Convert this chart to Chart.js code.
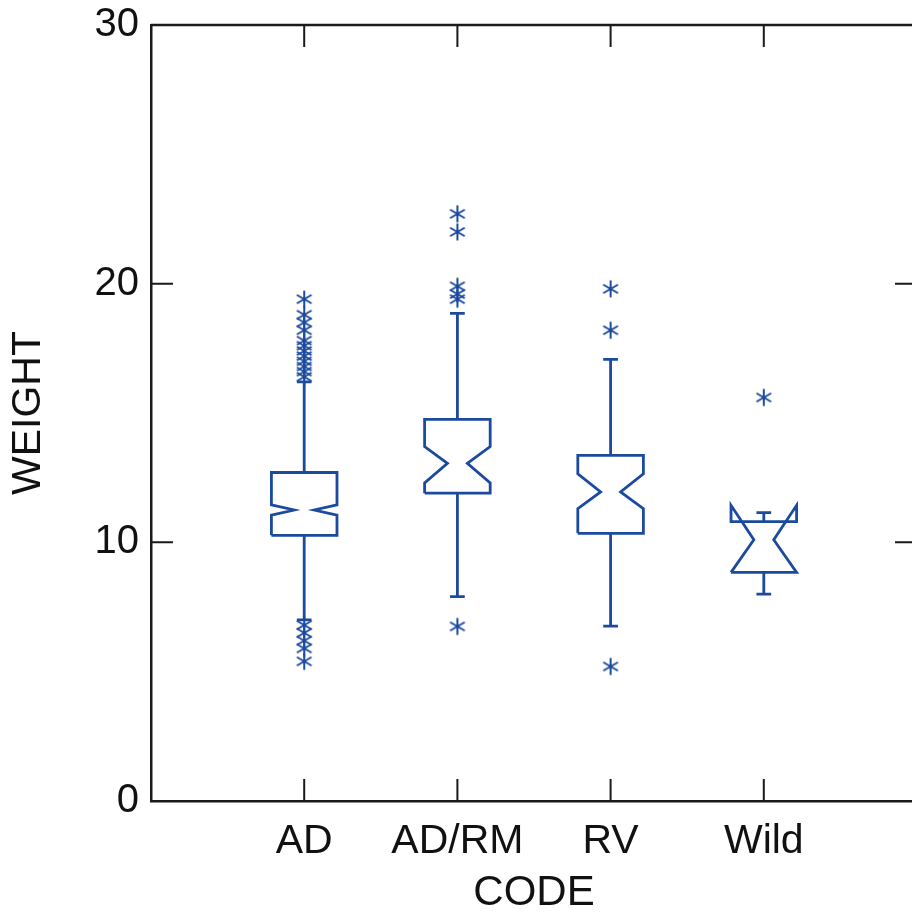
<!DOCTYPE html>
<html>
<head>
<meta charset="utf-8">
<script src="https://cdn.jsdelivr.net/npm/chart.js@4.4.0/dist/chart.umd.min.js"></script>
<style>
  html, body { margin: 0; padding: 0; background: #fff; overflow: hidden; }
  #chart { display: block; }
</style>
</head>
<body>
<canvas id="chart" width="922" height="916"></canvas>
<script>
const categories = ["AD", "AD/RM", "RV", "Wild"];
const q1 = [10.27, 11.9, 10.35, 8.84];
const median = [11.25, 13.05, 11.95, 10.1];
const q3 = [12.7, 14.75, 13.36, 10.8];
const notchLow = [11.05, 12.3, 11.3, 8.84];
const notchHigh = [11.45, 13.7, 12.65, 11.43];
const whiskerLow = [7.0, 7.9, 6.76, 8.0];
const whiskerHigh = [16.2, 18.85, 17.07, 11.15];
const outliersAD = [19.4, 18.8, 18.5, 18.2, 17.8, 17.6, 17.4, 17.2, 17.0, 16.8, 16.6, 16.4, 6.8, 6.5, 6.2, 5.9, 5.4];
const outliersADRM = [22.7, 22.0, 19.9, 19.6, 19.4, 6.75];
const outliersRV = [19.8, 18.2, 5.2];
const outliersWild = [15.6];
const outliers = [outliersAD, outliersADRM, outliersRV, outliersWild];
const yTicks = [0, 10, 20, 30];

const BLUE = "#1b4a9e";
const AXIS = "#1a1a1a";
const BOX_HALF = 0.214, NOTCH_HALF = 0.065, CAP_HALF = 0.048, TICK = 22;

Chart.defaults.font.family = "'Liberation Sans', Arial, sans-serif";
Chart.defaults.color = "#111";

// six-armed asterisk for the outside values
const star = document.createElement("canvas");
star.width = 20; star.height = 20;
(() => {
  const g = star.getContext("2d");
  g.strokeStyle = BLUE; g.lineWidth = 2;
  g.beginPath();
  [90, 30, 150].forEach(a => {
    const r = a * Math.PI / 180, dx = Math.cos(r) * 8.5, dy = Math.sin(r) * 8.5;
    g.moveTo(10 - dx, 10 - dy); g.lineTo(10 + dx, 10 + dy);
  });
  g.stroke();
})();

const lineStyle = { showLine: true, borderColor: BLUE, borderWidth: 2.8, pointRadius: 0, fill: false, tension: 0, borderJoinStyle: "miter" };

const boxes = categories.map((_, i) => {
  const cx = i + 1, L = cx - BOX_HALF, R = cx + BOX_HALF;
  return Object.assign({
    data: [
      { x: L, y: q1[i] }, { x: L, y: notchLow[i] }, { x: cx - NOTCH_HALF, y: median[i] },
      { x: L, y: notchHigh[i] }, { x: L, y: q3[i] }, { x: R, y: q3[i] },
      { x: R, y: notchHigh[i] }, { x: cx + NOTCH_HALF, y: median[i] }, { x: R, y: notchLow[i] },
      { x: R, y: q1[i] }, { x: L, y: q1[i] }
    ]
  }, lineStyle);
});

const whiskers = categories.map((_, i) => {
  const cx = i + 1;
  return Object.assign({
    data: [
      { x: cx, y: q3[i] }, { x: cx, y: whiskerHigh[i] }, { x: cx, y: null },
      { x: cx - CAP_HALF, y: whiskerHigh[i] }, { x: cx + CAP_HALF, y: whiskerHigh[i] }, { x: cx, y: null },
      { x: cx, y: q1[i] }, { x: cx, y: whiskerLow[i] }, { x: cx, y: null },
      { x: cx - CAP_HALF, y: whiskerLow[i] }, { x: cx + CAP_HALF, y: whiskerLow[i] }
    ],
    spanGaps: false
  }, lineStyle);
});

const points = {
  data: outliers.flatMap((list, i) => list.map(v => ({ x: i + 1, y: v }))),
  pointStyle: star,
  showLine: false
};

/* top/right frame and inward ticks */
const frame = {
  id: "frame",
  afterDatasetsDraw(c) {
    const { ctx, chartArea: a, scales: { x, y } } = c;
    ctx.save();
    ctx.strokeStyle = AXIS;
    ctx.lineWidth = 2.5;
    ctx.beginPath();
    ctx.moveTo(a.left, a.top); ctx.lineTo(a.right, a.top); ctx.lineTo(a.right, a.bottom);
    ctx.stroke();
    ctx.lineWidth = 2;
    ctx.beginPath();
    categories.forEach((_, i) => {
      const px = x.getPixelForValue(i + 1);
      ctx.moveTo(px, a.bottom); ctx.lineTo(px, a.bottom - TICK);
      ctx.moveTo(px, a.top); ctx.lineTo(px, a.top + TICK);
    });
    yTicks.slice(1, -1).forEach(v => {
      const py = y.getPixelForValue(v);
      ctx.moveTo(a.left, py); ctx.lineTo(a.left + TICK, py);
      ctx.moveTo(a.right, py); ctx.lineTo(a.right - TICK, py);
    });
    ctx.stroke();
    ctx.restore();
  }
};

new Chart(document.getElementById("chart"), {
  type: "scatter",
  data: { datasets: [...boxes, ...whiskers, points] },
  options: {
    responsive: false,
    animation: false,
    devicePixelRatio: 1,
    layout: { padding: { top: 25, right: 1, left: 0, bottom: 0 } },
    plugins: { legend: { display: false }, tooltip: { enabled: false } },
    scales: {
      x: {
        type: "linear", min: 0, max: 5,
        afterBuildTicks: s => { s.ticks = categories.map((_, i) => ({ value: i + 1 })); },
        afterFit: s => { s.height = 115; s.paddingLeft = 0; s.paddingRight = 0; },
        grid: { display: false, drawTicks: false },
        border: { display: true, color: AXIS, width: 2.5 },
        ticks: { callback: v => categories[v - 1], font: { size: 41 }, padding: 16, maxRotation: 0, autoSkip: false },
        title: { display: true, text: "CODE", font: { size: 42, lineHeight: 1 }, color: "#111", padding: { top: 0, bottom: 2 } }
      },
      y: {
        type: "linear", min: 0, max: 30,
        afterBuildTicks: s => { s.ticks = yTicks.map(v => ({ value: v })); },
        afterFit: s => { s.width = 151; s.paddingTop = 0; s.paddingBottom = 0; },
        grid: { display: false, drawTicks: false },
        border: { display: true, color: AXIS, width: 2.5 },
        ticks: { font: { size: 40 }, padding: 12 },
        title: { display: true, text: "WEIGHT", font: { size: 41, lineHeight: 1 }, color: "#111", padding: { top: 8, bottom: 0 } }
      }
    }
  },
  plugins: [frame]
});
</script>
</body>
</html>
